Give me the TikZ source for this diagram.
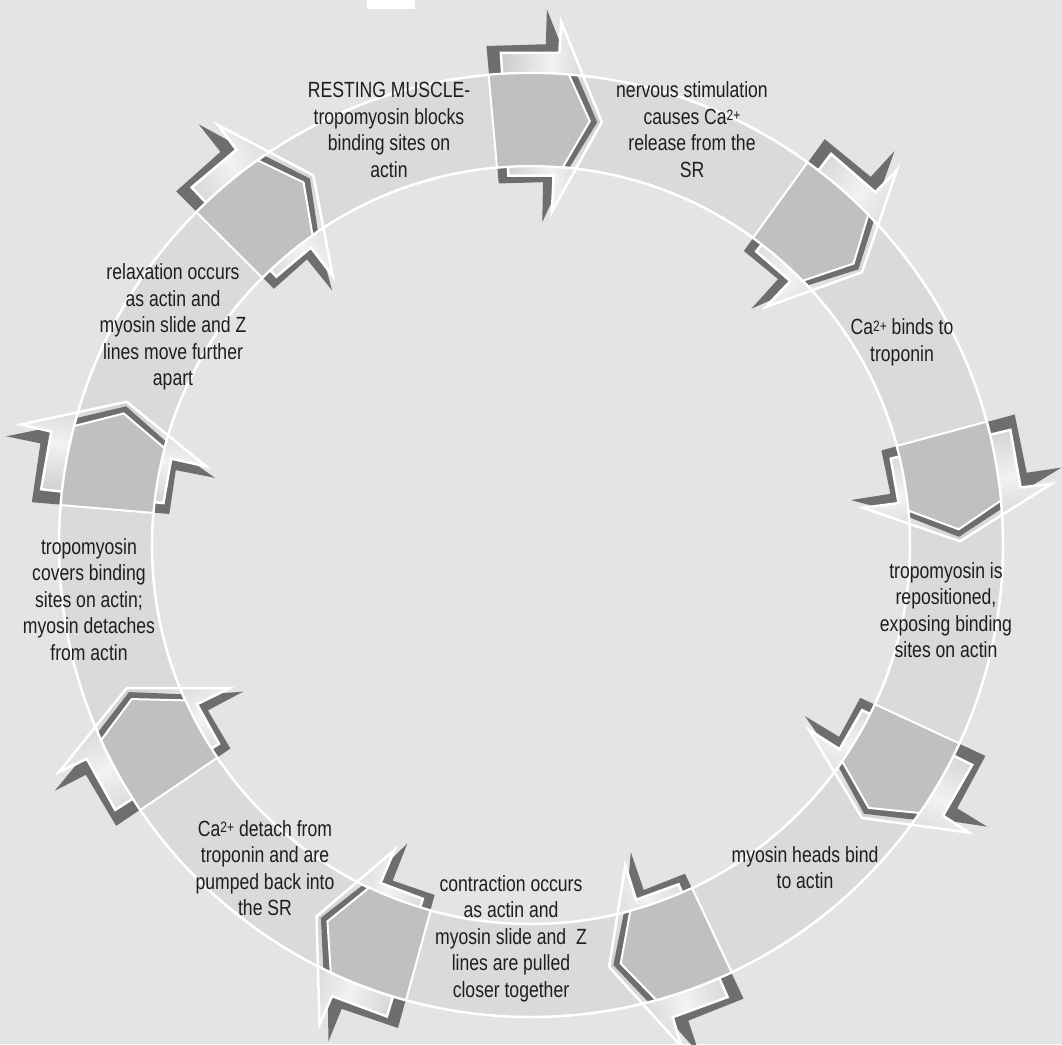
\documentclass[tikz,border=0pt]{standalone}
\usepackage{fontspec}
\setmainfont{Liberation Sans}[FakeStretch=0.8]
\newcommand\myup[1]{\raisebox{3.5pt}{\fontsize{15}{15}\selectfont #1}}
\definecolor{bgc}{HTML}{E4E4E4}
\definecolor{bandc}{HTML}{DADADA}
\definecolor{grayc}{HTML}{C0C0C0}
\definecolor{darkc}{HTML}{6E6E6E}
\definecolor{sidec}{HTML}{CBCBCB}
\definecolor{litec}{HTML}{F2F2F2}
\definecolor{txtc}{HTML}{1E1E1E}
\begin{document}
\begin{tikzpicture}[x=1pt,y=1pt,
  ringline/.style={draw=white,line width=2.5pt},
  arrowshadow/.style={fill=darkc},
  bigarrow/.style={draw=white,line width=2.5pt,left color=sidec,right color=sidec,middle color=litec},
  grayshadow/.style={fill=darkc},
  graybox/.style={fill=grayc,draw=white,line width=2pt,line join=miter},
  txt/.style={align=center,font=\fontsize{22}{26.5}\selectfont,inner sep=0pt,anchor=base,text=txtc}]
\useasboundingbox (-531,-499) rectangle (531,545);
\fill[bgc] (-531,-499) rectangle (531,545);
\fill[white] (-164,536) rectangle (-116,545);
% band
\fill[bandc,even odd rule] (0,0) circle[radius=472] (0,0) circle[radius=379];
\def\markers{90,49,10,-30,-70,-110.5,-151,170,130}
% big arrows
\foreach \t in \markers {
  \fill[arrowshadow] (\t+5.1:501) -- (\t-1.7:501) -- (\t-1.7:536) -- (\t-7.9:430)
     -- (\t-2.0:323) -- (\t-1.9:363) -- (\t+5.1:363) -- cycle;
  \filldraw[bigarrow,shading angle=\t] (\t+3.5:493) -- (\t-3.3:493) -- (\t-3.3:524)
     -- (\t-9.5:429) -- (\t-3.6:334) -- (\t-3.5:370) -- (\t+3.5:370) -- cycle;
}
% gray box shadows
\foreach \t in \markers {
  \fill[grayshadow] (\t+4.15:472) arc[start angle=\t+4.15,end angle=\t-5.6,radius=472]
     -- (\t-8.9:428) -- (\t-5.8:379) arc[start angle=\t-5.8,end angle=\t+4.15,radius=379] -- cycle;
}
% ring lines
\draw[ringline] (0,0) circle[radius=472];
\draw[ringline] (0,0) circle[radius=379];
% gray boxes
\foreach \t in \markers {
  \filldraw[graybox] (\t+5.15:472) arc[start angle=\t+5.15,end angle=\t-4.6,radius=472]
     -- (\t-7.9:428) -- (\t-4.8:379) arc[start angle=\t-4.8,end angle=\t+5.15,radius=379] -- cycle;
}
% texts (anchor = baseline of last line)
\node[txt] (t1) at (-142,367.8) {RESTING MUSCLE-\\tropomyosin blocks\\binding sites on\\actin};
\node[txt] (t2) at (161,367.5) {nervous stimulation\\causes Ca\myup{2+}\\release from the\\SR};
\node[txt] (t3) at (371,183.5) {Ca\myup{2+} binds to\\troponin};
\node[txt] (t4) at (415,-112.8) {tropomyosin is\\repositioned,\\exposing binding\\sites on actin};
\node[txt] (t5) at (274,-343.5) {myosin heads bind\\to actin};
\node[txt] (t6) at (-20,-452) {contraction occurs\\as actin and\\myosin slide and\ \ Z\\lines are pulled\\closer together};
\node[txt] (t7) at (-266,-370.5) {Ca\myup{2+} detach from\\troponin and are\\pumped back into\\the SR};
\node[txt] (t8) at (-442,-115) {tropomyosin\\covers binding\\sites on actin;\\myosin detaches\\from actin};
\node[txt] (t9) at (-358,159) {relaxation occurs\\as actin and\\myosin slide and Z\\lines move further\\apart};
\end{tikzpicture}
\end{document}
